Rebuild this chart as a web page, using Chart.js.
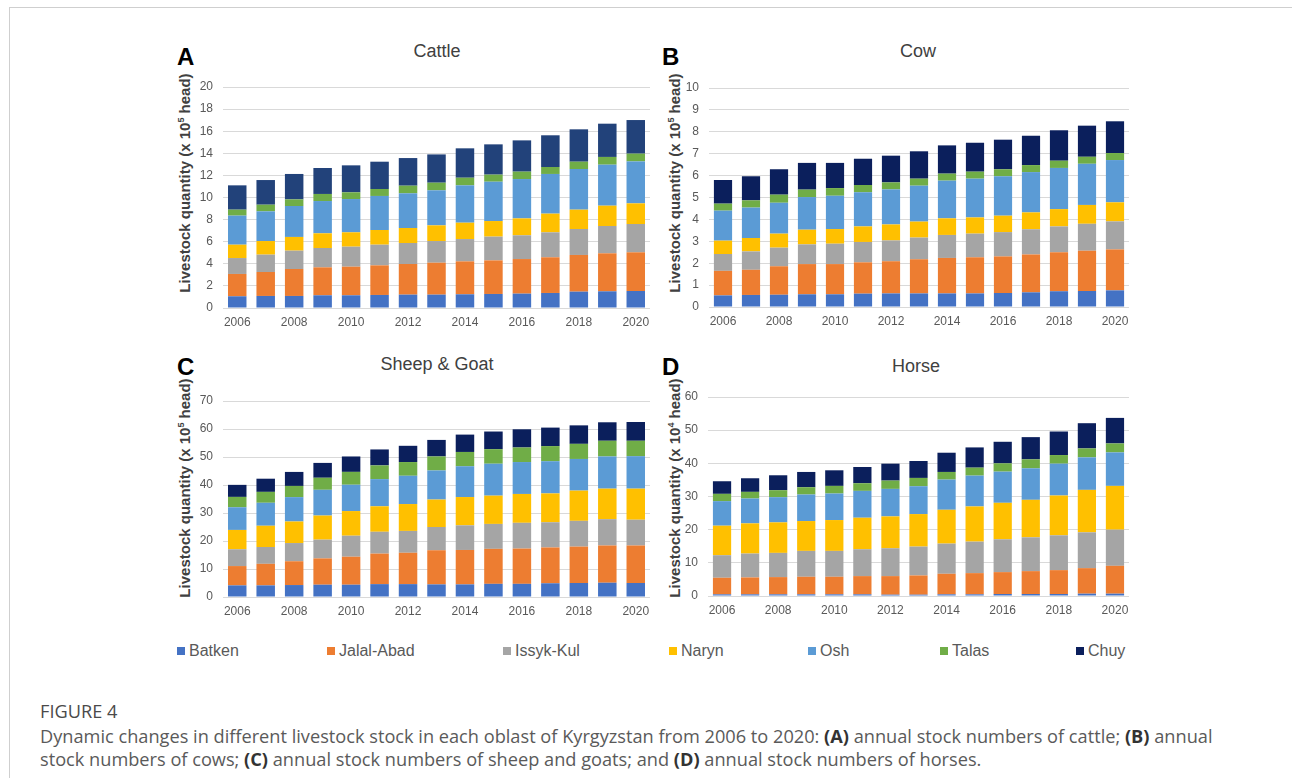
<!DOCTYPE html>
<html>
<head>
<meta charset="utf-8">
<script src="https://cdn.jsdelivr.net/npm/chart.js@4.4.1/dist/chart.umd.min.js"></script>
<style>
  html, body { margin:0; padding:0; background:#fff; }
  #page { position:relative; width:1292px; height:778px; overflow:hidden; background:#fff; }
  .frameTop { position:absolute; left:9px; top:7px; right:0; height:1px; background:#cfcfcf; }
  .frameLeft { position:absolute; left:9px; top:7px; bottom:0; width:1px; background:#cfcfcf; }
  .cv { position:absolute; }
  .letter { position:absolute; font-family:"Liberation Sans", Arial, sans-serif; font-weight:bold; font-size:24px; color:#000; line-height:1; }
  .ptitle { position:absolute; font-family:"Liberation Sans", Arial, sans-serif; font-size:18px; color:#404040; transform:translate(-50%,-50%); white-space:nowrap; line-height:1; }
  .ytitle { position:absolute; font-family:"Liberation Sans", Arial, sans-serif; font-weight:bold; font-size:15px; color:#404040; transform:translate(-50%,-50%) rotate(-90deg); white-space:nowrap; line-height:1; }
  .ytitle sup { font-size:9px; vertical-align:6px; line-height:0; }
  .leg { position:absolute; top:643px; font-family:"Liberation Sans", Arial, sans-serif; font-size:16px; color:#595959; white-space:nowrap; line-height:16px; }
  .leg i { display:inline-block; width:8px; height:8px; margin-right:4px; vertical-align:1px; }
  .figlab { position:absolute; left:40px; top:700px; font-family:"Open Sans", sans-serif; font-size:18.2px; line-height:22px; color:#4a4a4a; }
  .cap { position:absolute; left:40px; top:725px; font-family:"Open Sans", sans-serif; font-size:18.2px; line-height:22.5px; color:#5a5a5a; white-space:nowrap; }
  .cap b { color:#333; font-weight:bold; }
</style>
</head>
<body>
<div id="page">
  <div class="frameTop"></div>
  <div class="frameLeft"></div>

  <div class="letter" style="left:177px;top:45px;">A</div>
  <div class="letter" style="left:662px;top:45px;">B</div>
  <div class="letter" style="left:177px;top:355px;">C</div>
  <div class="letter" style="left:662px;top:355px;">D</div>

  <div class="ptitle" style="left:437px;top:51px;">Cattle</div>
  <div class="ptitle" style="left:918px;top:51px;">Cow</div>
  <div class="ptitle" style="left:437px;top:364px;">Sheep &amp; Goat</div>
  <div class="ptitle" style="left:916px;top:366px;">Horse</div>

  <div class="ytitle" style="left:184px;top:183px;">Livestock quantity (x 10<sup>5</sup> head)</div>
  <div class="ytitle" style="left:674px;top:183px;">Livestock quantity (x 10<sup>5</sup> head)</div>
  <div class="ytitle" style="left:184px;top:488px;">Livestock quantity (x 10<sup>5</sup> head)</div>
  <div class="ytitle" style="left:674px;top:488px;">Livestock quantity (x 10<sup>4</sup> head)</div>

  <canvas id="cA" class="cv"></canvas>
  <canvas id="cB" class="cv"></canvas>
  <canvas id="cC" class="cv"></canvas>
  <canvas id="cD" class="cv"></canvas>

  <div id="legend"></div>

  <div class="figlab">FIGURE 4</div>
  <div class="cap">Dynamic changes in different livestock stock in each oblast of Kyrgyzstan from 2006 to 2020: <b>(A)</b> annual stock numbers of cattle; <b>(B)</b> annual<br>stock numbers of cows; <b>(C)</b> annual stock numbers of sheep and goats; and <b>(D)</b> annual stock numbers of horses.</div>
</div>

<script>
// ---------- DATA ----------
const years = ["2006","2007","2008","2009","2010","2011","2012","2013","2014","2015","2016","2017","2018","2019","2020"];
const regions = ["Batken","Jalal-Abad","Issyk-Kul","Naryn","Osh","Talas","Chuy"];

// Panel A: Cattle (x 10^5 head)
const cattleBatken   = [1.06,1.09,1.09,1.15,1.15,1.18,1.21,1.21,1.24,1.27,1.30,1.36,1.48,1.51,1.54];
const cattleJalalAbad= [2.02,2.17,2.44,2.53,2.59,2.68,2.77,2.89,2.98,3.04,3.13,3.23,3.32,3.44,3.50];
const cattleIssykKul = [1.44,1.57,1.66,1.75,1.81,1.87,1.90,1.96,2.02,2.15,2.15,2.26,2.35,2.47,2.56];
const cattleNaryn    = [1.21,1.23,1.24,1.33,1.30,1.33,1.36,1.42,1.48,1.41,1.53,1.69,1.75,1.84,1.87];
const cattleOsh      = [2.63,2.69,2.80,2.92,3.01,3.08,3.14,3.17,3.38,3.56,3.56,3.59,3.68,3.71,3.80];
const cattleTalas    = [0.54,0.60,0.60,0.64,0.61,0.63,0.69,0.69,0.69,0.64,0.67,0.63,0.66,0.70,0.70];
const cattleChuy     = [2.20,2.23,2.30,2.35,2.44,2.47,2.50,2.56,2.66,2.74,2.83,2.87,2.93,3.01,3.04];

// Panel B: Cow (x 10^5 head)
const cowBatken    = [0.53,0.55,0.56,0.58,0.58,0.61,0.62,0.62,0.62,0.62,0.64,0.67,0.72,0.73,0.76];
const cowJalalAbad = [1.12,1.15,1.30,1.38,1.38,1.43,1.47,1.56,1.62,1.65,1.67,1.73,1.78,1.84,1.87];
const cowIssykKul  = [0.77,0.84,0.85,0.90,0.93,0.93,0.95,0.99,1.05,1.08,1.11,1.15,1.18,1.23,1.28];
const cowNaryn     = [0.61,0.61,0.64,0.67,0.67,0.71,0.73,0.73,0.76,0.74,0.75,0.77,0.79,0.86,0.87];
const cowOsh       = [1.37,1.39,1.41,1.49,1.52,1.56,1.60,1.64,1.72,1.77,1.80,1.84,1.88,1.88,1.93];
const cowTalas     = [0.32,0.33,0.37,0.34,0.35,0.33,0.32,0.32,0.32,0.32,0.32,0.32,0.33,0.32,0.32];
const cowChuy      = [1.08,1.10,1.16,1.22,1.15,1.20,1.22,1.25,1.29,1.32,1.35,1.34,1.39,1.42,1.45];

// Panel C: Sheep & Goat (x 10^5 head)
const sheepBatken    = [4.15,4.15,4.27,4.39,4.39,4.6,4.6,4.5,4.5,4.7,4.7,4.9,5.0,5.1,5.0];
const sheepJalalAbad = [6.9,7.7,8.5,9.4,10.0,10.9,11.2,12.2,12.3,12.5,12.6,12.8,13.0,13.3,13.4];
const sheepIssykKul  = [6.0,6.0,6.5,6.7,7.5,7.8,7.8,8.3,8.8,8.9,9.2,9.0,9.2,9.4,9.2];
const sheepNaryn     = [6.9,7.6,7.7,8.6,8.8,9.1,9.6,9.8,10.1,10.1,10.3,10.3,10.8,10.9,11.1];
const sheepOsh       = [8.1,8.2,8.7,9.2,9.4,9.7,10.1,10.4,11.0,11.4,11.4,11.5,11.3,11.5,11.6];
const sheepTalas     = [3.7,3.9,4.0,4.3,4.6,4.9,4.9,5.0,5.1,5.2,5.2,5.4,5.4,5.6,5.5];
const sheepChuy      = [4.3,4.7,5.0,5.3,5.5,5.7,5.8,5.9,6.2,6.3,6.5,6.6,6.6,6.6,6.7];

// Panel D: Horse (x 10^4 head)
const horseBatken    = [0.5,0.5,0.5,0.5,0.5,0.5,0.4,0.4,0.5,0.5,0.6,0.6,0.6,0.7,0.7];
const horseJalalAbad = [5.0,5.1,5.2,5.3,5.3,5.5,5.6,5.8,6.2,6.4,6.6,6.9,7.2,7.7,8.4];
const horseIssykKul  = [6.8,7.2,7.3,7.8,7.8,8.1,8.4,8.7,9.1,9.5,9.9,10.2,10.5,10.8,10.9];
const horseNaryn     = [8.9,9.1,9.2,9.0,9.3,9.5,9.6,9.8,10.2,10.6,11.0,11.3,12.0,12.8,13.2];
const horseOsh       = [7.4,7.5,7.6,8.0,8.0,8.1,8.3,8.4,9.1,9.3,9.4,9.5,9.6,9.8,10.1];
const horseTalas     = [2.2,2.0,2.1,2.2,2.3,2.3,2.5,2.5,2.3,2.4,2.5,2.7,2.6,2.7,2.7];
const horseChuy      = [3.8,4.1,4.5,4.6,4.7,4.9,5.1,5.1,5.8,6.1,6.5,6.7,7.1,7.6,7.7];

// y-axis tick settings per panel
const yMaxA = 20, yStepA = 2;
const yMaxB = 10, yStepB = 1;
const yMaxC = 70, yStepC = 10;
const yMaxD = 60, yStepD = 10;

// ---------- STYLE ----------
const colorsBase = ["#4472C4","#ED7D31","#A5A5A5","#FFC000","#5B9BD5","#70AD47","#0B1F5C"];
const colorsA    = ["#4472C4","#ED7D31","#A5A5A5","#FFC000","#5B9BD5","#70AD47","#22427A"];

const FONT = '"Liberation Sans", Arial, sans-serif';
const PADL = 60, PADT = 22, PADR = 10, XH = 30;

function makePanel(id, area, seriesList, colors, yMax, yStep) {
  const cv = document.getElementById(id);
  const w = (area.right - area.left) + PADL + PADR;
  const h = (area.bottom - area.top) + PADT + XH;
  cv.style.left = (area.left - PADL) + 'px';
  cv.style.top = (area.top - PADT) + 'px';
  cv.style.width = w + 'px';
  cv.style.height = h + 'px';
  cv.width = w; cv.height = h;
  const datasets = seriesList.map((d, i) => ({
    label: regions[i],
    data: d,
    backgroundColor: colors[i],
    borderWidth: 0,
    barPercentage: 0.65,
    categoryPercentage: 1.0,
    stack: 's'
  }));
  new Chart(cv, {
    type: 'bar',
    data: { labels: years, datasets },
    options: {
      responsive: false,
      animation: false,
      devicePixelRatio: 1,
      layout: { padding: { left: 0, top: PADT, right: PADR, bottom: 0 } },
      plugins: { legend: { display: false }, title: { display: false }, tooltip: { enabled: false } },
      scales: {
        x: {
          stacked: true,
          grid: { display: false, drawTicks: false },
          border: { display: false },
          ticks: {
            autoSkip: false, maxRotation: 0, padding: 7,
            color: '#595959', font: { family: FONT, size: 12 },
            callback: function(v, i) { return i % 2 === 0 ? this.getLabelForValue(v) : ''; }
          },
          afterFit: s => { s.height = XH; }
        },
        y: {
          stacked: true,
          min: 0, max: yMax,
          grid: { color: '#d9d9d9', lineWidth: 1, drawTicks: false },
          border: { display: false },
          ticks: { stepSize: yStep, padding: 10, color: '#595959', font: { family: FONT, size: 12 } },
          afterFit: s => { s.width = PADL; }
        }
      }
    }
  });
}

makePanel('cA', {left:223, right:650, top:87, bottom:308},
  [cattleBatken, cattleJalalAbad, cattleIssykKul, cattleNaryn, cattleOsh, cattleTalas, cattleChuy], colorsA, yMaxA, yStepA);
makePanel('cB', {left:709, right:1129, top:88, bottom:307},
  [cowBatken, cowJalalAbad, cowIssykKul, cowNaryn, cowOsh, cowTalas, cowChuy], colorsBase, yMaxB, yStepB);
makePanel('cC', {left:223, right:650, top:401, bottom:597},
  [sheepBatken, sheepJalalAbad, sheepIssykKul, sheepNaryn, sheepOsh, sheepTalas, sheepChuy], colorsBase, yMaxC, yStepC);
makePanel('cD', {left:708, right:1129, top:397, bottom:596},
  [horseBatken, horseJalalAbad, horseIssykKul, horseNaryn, horseOsh, horseTalas, horseChuy], colorsBase, yMaxD, yStepD);

// ---------- LEGEND ----------
const legendX = [177, 327, 503, 669, 808, 940, 1076];
const legend = document.getElementById('legend');
regions.forEach((r, i) => {
  const d = document.createElement('div');
  d.className = 'leg';
  d.style.left = legendX[i] + 'px';
  d.innerHTML = '<i style="background:' + colorsBase[i] + '"></i>' + r;
  legend.appendChild(d);
});
</script>
</body>
</html>
